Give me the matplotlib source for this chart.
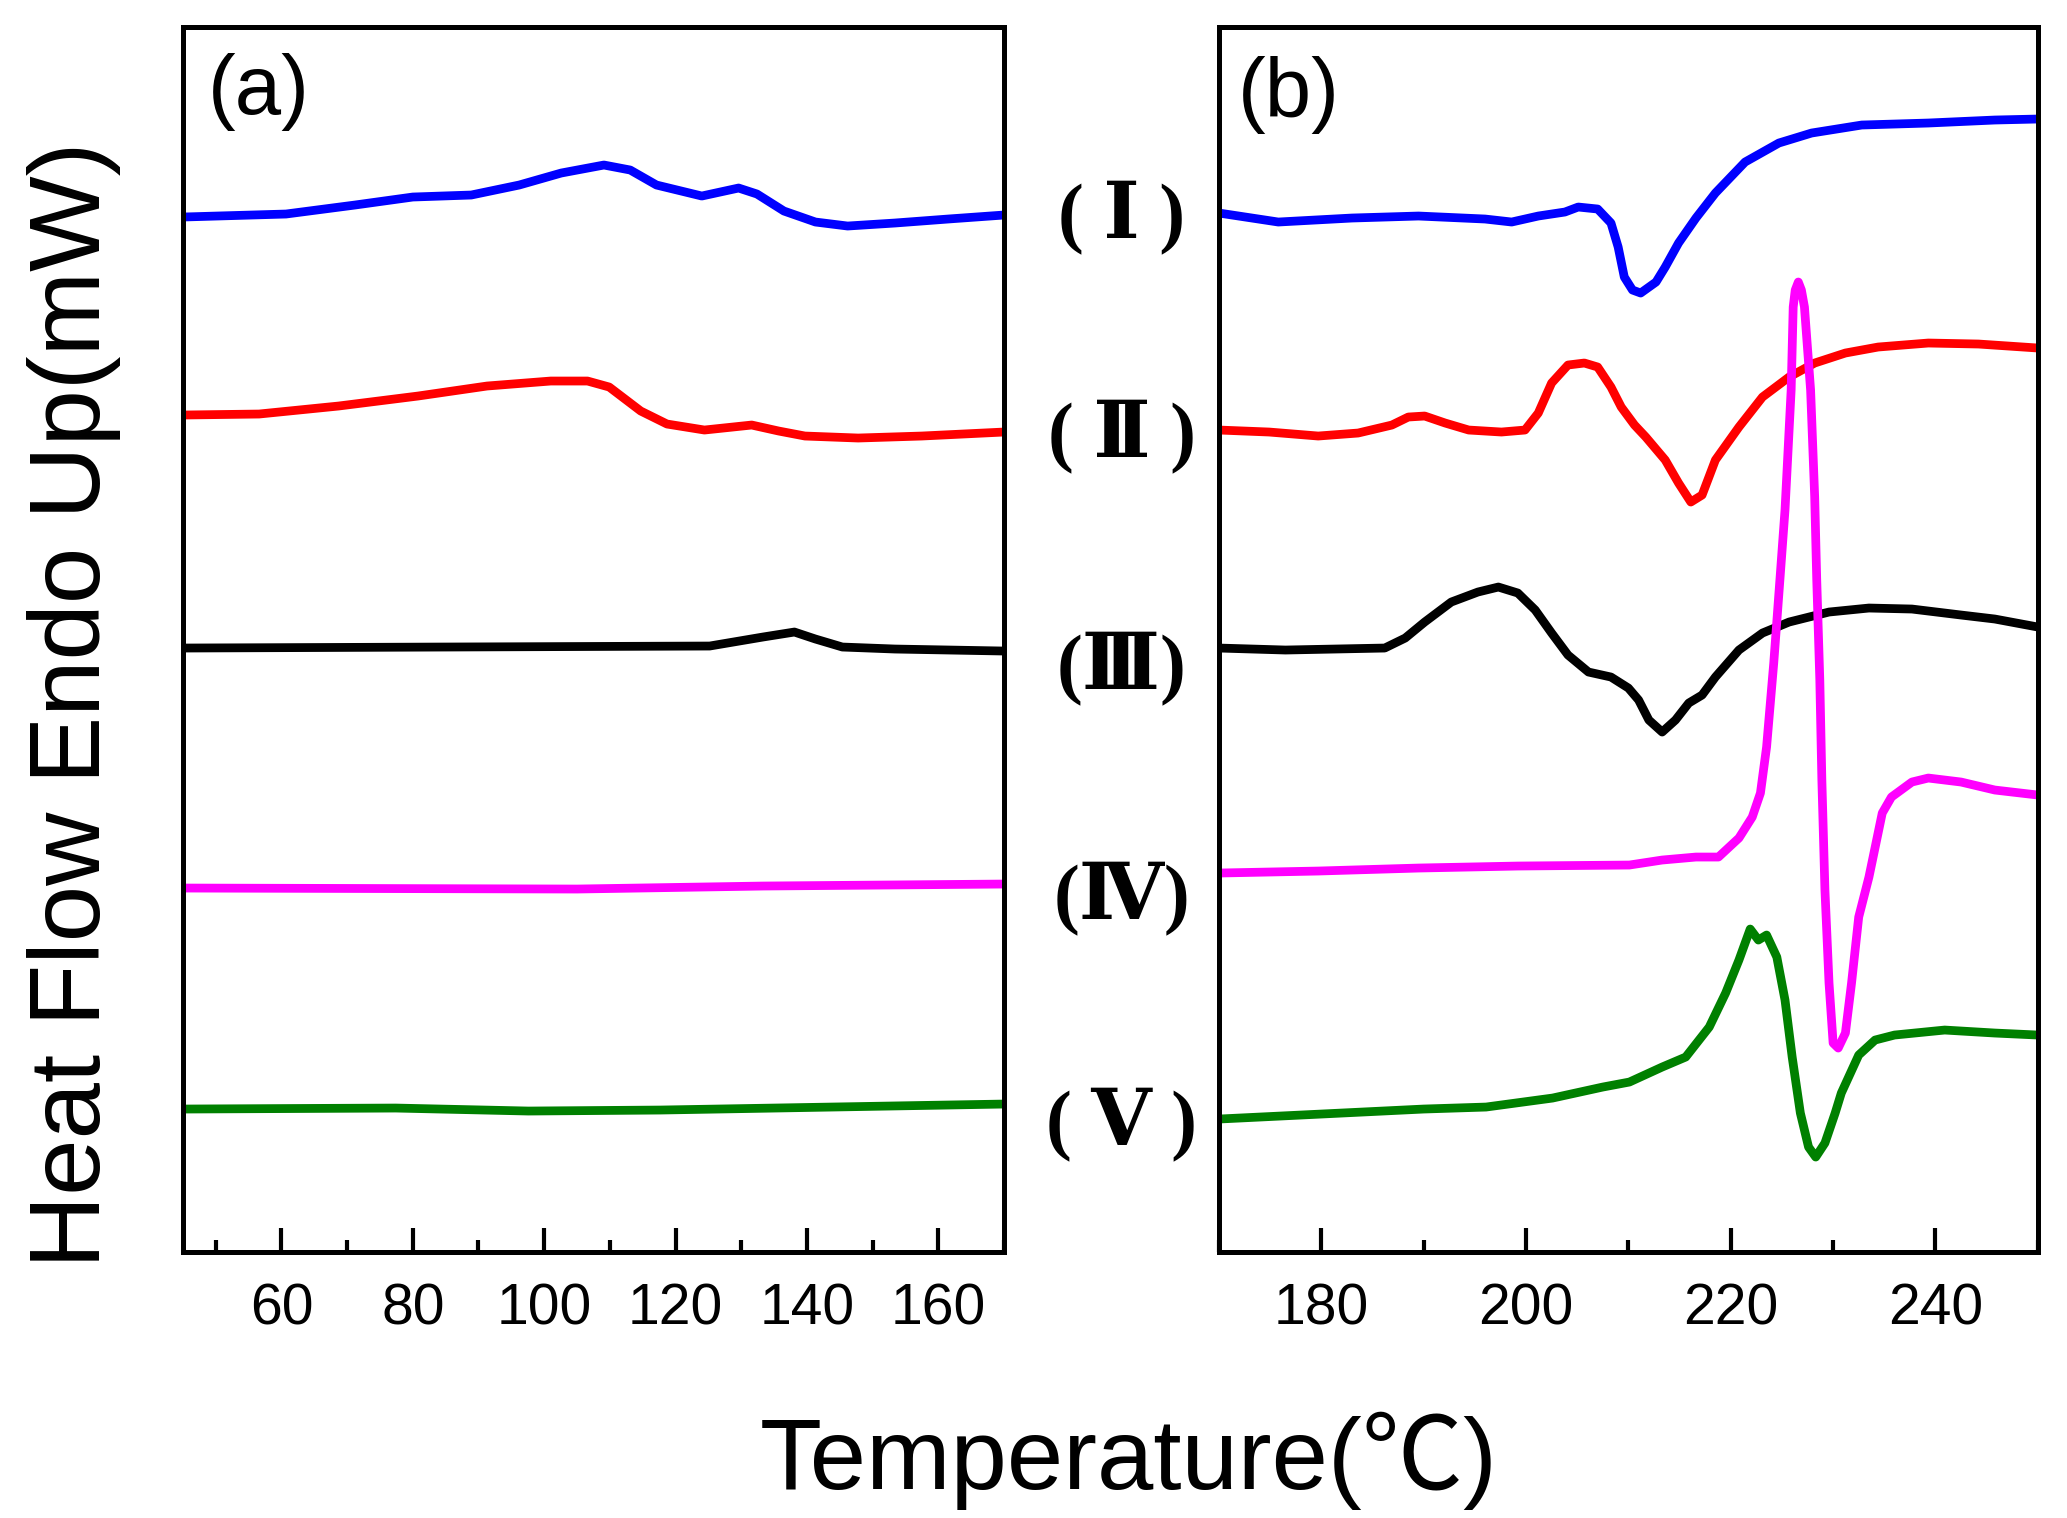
import matplotlib
matplotlib.use('Agg')
import matplotlib.pyplot as plt
from matplotlib.ticker import MultipleLocator

plt.rcParams['font.family'] = ['Liberation Sans', 'DejaVu Sans']

# panel (a): low temperature range, arbitrary heat-flow units (stacked curves)
t_a_I = [45, 60.7, 71.2, 80.0, 88.9, 96.2, 102.6, 109.1, 113.1, 117.1, 124.0, 129.6,
         132.4, 136.5, 141.3, 146.2, 153.4, 161.5, 170]
hf_a_I = [10.35, 10.38, 10.47, 10.55, 10.57, 10.67, 10.79, 10.87, 10.82, 10.67, 10.56,
          10.64, 10.58, 10.41, 10.30, 10.26, 10.29, 10.33, 10.37]
t_a_II = [45, 56.6, 68.7, 80.8, 91.3, 101.0, 106.6, 109.9, 114.7, 118.7, 124.4, 131.6,
          135.7, 139.7, 147.8, 157.5, 170]
hf_a_II = [8.37, 8.38, 8.46, 8.56, 8.66, 8.71, 8.71, 8.65, 8.41, 8.28, 8.22, 8.27,
           8.21, 8.16, 8.14, 8.16, 8.20]
t_a_III = [45, 84.9, 125.2, 133.3, 138.1, 141.3, 145.4, 153.4, 170]
hf_a_III = [6.04, 6.05, 6.06, 6.15, 6.20, 6.13, 6.05, 6.03, 6.01]
t_a_IV = [45, 105, 133.3, 170]
hf_a_IV = [3.64, 3.63, 3.66, 3.68]
t_a_V = [45, 77.4, 97.6, 117.7, 170]
hf_a_V = [1.43, 1.44, 1.41, 1.42, 1.48]

# panel (b): high temperature range
t_b_I = [170, 175.8, 183.0, 189.5, 196.0, 198.6, 201.2, 203.8, 205.1, 207.0, 208.3,
         209.0, 209.6, 210.4, 211.2, 212.7, 213.6, 214.9, 216.6, 218.5, 221.4, 224.7,
         227.9, 232.8, 239.3, 245.8, 250]
hf_b_I = [10.39, 10.30, 10.34, 10.36, 10.33, 10.30, 10.36, 10.40, 10.45, 10.43, 10.29,
          10.05, 9.75, 9.62, 9.59, 9.70, 9.85, 10.09, 10.34, 10.59, 10.90, 11.09,
          11.19, 11.27, 11.29, 11.32, 11.33]
t_b_II = [170, 174.9, 179.7, 183.6, 186.9, 188.5, 190.1, 192.1, 194.4, 197.6, 199.9,
          201.2, 202.5, 204.1, 205.7, 207.0, 208.3, 209.3, 210.6, 211.7, 213.6, 214.9,
          216.1, 217.2, 218.5, 220.8, 223.1, 225.7, 228.2, 231.2, 234.4, 239.3, 244.2, 250]
hf_b_II = [8.22, 8.20, 8.16, 8.19, 8.27, 8.35, 8.36, 8.29, 8.22, 8.20, 8.22,
           8.39, 8.69, 8.87, 8.89, 8.85, 8.65, 8.45, 8.27, 8.15, 7.92, 7.69,
           7.50, 7.57, 7.92, 8.25, 8.55, 8.75, 8.89, 8.99, 9.05, 9.09, 9.08, 9.04]
t_b_III = [170, 176.5, 186.2, 188.2, 190.1, 192.7, 195.3, 197.3, 199.2, 200.9, 202.5,
           204.1, 206.1, 208.3, 210.0, 211.0, 212.0, 213.3, 214.6, 215.9, 217.2, 218.5,
           220.8, 223.1, 225.7, 229.6, 233.5, 237.7, 242.5, 245.8, 250]
hf_b_III = [6.04, 6.02, 6.04, 6.14, 6.30, 6.50, 6.60, 6.65, 6.59, 6.42, 6.19,
            5.97, 5.80, 5.75, 5.64, 5.52, 5.32, 5.20, 5.32, 5.49, 5.57, 5.75,
            6.02, 6.19, 6.30, 6.40, 6.44, 6.43, 6.37, 6.33, 6.25]
t_b_IV = [170, 179.7, 189.5, 199.2, 210.1, 213.3, 216.6, 218.8, 220.8, 222.1, 222.9,
          223.5, 224.2, 224.8, 225.3, 225.9, 226.1, 226.3, 226.6, 226.9, 227.2, 227.8,
          228.2, 228.4, 228.7, 228.9, 229.2, 229.6, 230.0, 230.5, 231.2, 231.8, 232.5,
          233.5, 234.8, 235.7, 237.7, 239.3, 242.5, 245.8, 250]
hf_b_IV = [3.79, 3.81, 3.84, 3.86, 3.87, 3.92, 3.95, 3.95, 4.14, 4.35, 4.59,
           5.05, 5.89, 6.72, 7.42, 8.62, 9.45, 9.62, 9.70, 9.62, 9.45, 8.62,
           7.55, 6.72, 5.72, 4.72, 3.62, 2.69, 2.09, 2.04, 2.19, 2.69, 3.35,
           3.75, 4.39, 4.55, 4.70, 4.74, 4.70, 4.62, 4.57]
t_b_V = [170, 190, 196.1, 202.6, 207.5, 210.1, 213.3, 215.6, 217.9, 219.5, 220.8,
         221.9, 222.7, 223.5, 224.5, 225.3, 226.0, 226.8, 227.6, 228.3, 229.2, 230.2,
         230.8, 232.5, 234.1, 236.0, 240.9, 245.8, 250]
hf_b_V = [1.33, 1.43, 1.45, 1.54, 1.65, 1.70, 1.85, 1.95, 2.25, 2.59, 2.92,
          3.23, 3.12, 3.17, 2.95, 2.52, 1.95, 1.39, 1.05, 0.95, 1.09, 1.39,
          1.59, 1.97, 2.12, 2.17, 2.22, 2.19, 2.17]

colors = ['#0000ff', '#ff0000', '#000000', '#ff00ff', '#008000']
sample_labels = ['( Ⅰ )', '( Ⅱ )', '(Ⅲ)', '(Ⅳ)', '( Ⅴ )']
label_y = [0.8564, 0.7121, 0.5593, 0.4078, 0.2589]

curves_a = [(t_a_I, hf_a_I), (t_a_II, hf_a_II), (t_a_III, hf_a_III),
            (t_a_IV, hf_a_IV), (t_a_V, hf_a_V)]
curves_b = [(t_b_I, hf_b_I), (t_b_II, hf_b_II), (t_b_III, hf_b_III),
            (t_b_IV, hf_b_IV), (t_b_V, hf_b_V)]

fig = plt.figure(figsize=(20.67, 15.18), dpi=100)
ax_a = fig.add_axes([0.0885, 0.1752, 0.3972, 0.8070])
ax_b = fig.add_axes([0.5897, 0.1752, 0.3962, 0.8070])

for ax, curves, xlim in [(ax_a, curves_a, (45, 170)), (ax_b, curves_b, (170, 250))]:
    for (t, hf), c in zip(curves, colors):
        ax.plot(t, hf, color=c, lw=6.3, solid_joinstyle='round')
    ax.set_xlim(*xlim)
    ax.set_ylim(0, 12.25)
    ax.xaxis.set_major_locator(MultipleLocator(20))
    ax.xaxis.set_minor_locator(MultipleLocator(10))
    ax.set_yticks([])
    ax.tick_params(axis='x', which='both', direction='in', top=False, width=3,
                   labelsize=41, pad=22)
    ax.tick_params(axis='x', which='major', length=17)
    ax.tick_params(axis='x', which='minor', length=9)
    for sp in ax.spines.values():
        sp.set_linewidth(3.6)

ax_a.set_xticks([60, 80, 100, 120, 140, 160])

fig.text(0.1006, 0.965, '(a)', fontsize=60, ha='left', va='top')
fig.text(0.599, 0.963, '(b)', fontsize=60, ha='left', va='top')

for lab, y in zip(sample_labels, label_y):
    fig.text(0.5428, y, lab, fontsize=56,
             family=['Liberation Serif', 'DejaVu Serif', 'Noto Sans CJK SC'],
             fontweight='bold', ha='center', va='center')

fig.text(0.036, 0.5356, 'Heat Flow Endo Up(mW)', fontsize=73, rotation=90,
         ha='center', va='center')
fig.text(0.5462, 0.0188, 'Temperature(℃)', fontsize=73, ha='center', va='baseline',
         family=['Liberation Sans', 'Noto Sans CJK SC'])

fig.savefig('out.png', dpi=100)
